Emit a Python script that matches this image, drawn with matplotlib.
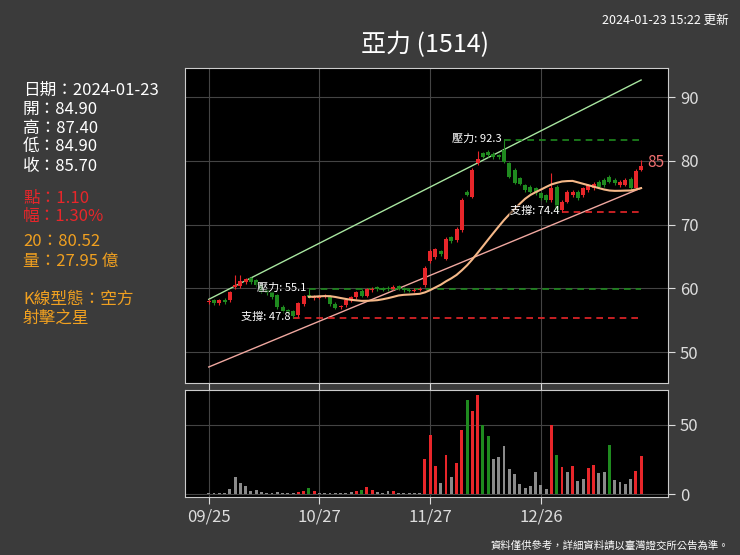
import numpy as np
import pandas as pd
import matplotlib
matplotlib.use("Agg")
import matplotlib.pyplot as plt

plt.rcParams['font.family'] = ['Noto Sans CJK TC', 'DejaVu Sans']

opens = [51.8,52.3,51.6,52.4,52.3,55.5,55.8,56.8,57.8,57.3,56.0,54.8,54.3,53.5,50.7,49.8,49.5,48.5,51.3,53.5,
         52.8,52.9,53.2,53.2,51.4,50.5,51.0,52.3,53.0,54.6,53.4,54.8,55.5,55.3,55.4,55.2,55.8,55.2,54.9,54.7,
         54.9,56.1,62.1,63.0,64.5,62.7,68.0,67.3,69.8,79.4,78.1,86.5,89.0,89.4,88.9,88.5,89.8,86.5,84.8,82.7,
         81.0,80.6,80.2,79.0,78.5,77.3,80.6,74.8,76.9,78.5,79.4,78.5,79.8,80.2,81.9,82.3,83.1,82.3,81.0,81.1,
         82.6,80.2,84.9]
closes = [52.2,51.5,52.3,51.8,54.3,56.0,57.0,57.5,56.8,56.0,54.6,54.0,53.0,50.5,49.5,49.2,48.3,51.5,53.3,53.2,
          53.2,53.2,53.4,51.3,50.4,50.8,52.3,53.0,54.3,53.4,55.0,55.2,55.0,54.9,55.0,55.7,55.2,54.8,54.7,54.9,
          55.1,60.4,64.7,65.0,63.8,67.7,67.0,70.2,77.3,78.6,84.8,87.5,88.1,88.5,88.0,88.0,86.9,83.1,81.6,81.4,
          79.8,79.4,79.0,77.7,77.3,80.2,74.8,76.9,79.4,79.4,77.7,80.2,81.0,81.4,80.6,81.0,81.9,81.5,81.9,82.3,
          80.2,84.6,85.7]
highs_extra = {5: 58.5, 6: 58.5, 19: 55.1, 51: 89.5, 56: 92.3, 65: 84.0, 82: 87.4, 16: 47.8, 67: 74.4}
volumes = [0.7,0.8,0.8,0.8,3.6,12.5,8,6,2.4,2.9,1.5,1,1,1.5,1,1,1,1.8,2.2,4.3,
           2,0.8,0.8,0.8,0.8,0.6,0.8,1.5,2.5,3,5.5,3,1.5,1.2,2,2.5,1.2,0.8,0.8,0.8,
           0.8,25.4,42.8,20.3,8,28,12.5,22.7,46.4,67.6,60,71.7,50,42,25,26.6,35,18.4,14.5,7.5,
           4.8,6,16,6.5,3.9,50,28.3,19.8,15.7,20,9.2,11.1,19,21.3,15.5,16.2,35.3,10.1,8.5,7.2,
           10.9,17,27.8]
vol_kind = list("nnnnnnnnnnnnnnnnnrrgrnnnnnnnrgrrnnnrnnnnn"
                "rrrnrnrrgrrgg" "nnnnnnnnnnn" "rgrnrnnrrnng" "nnnn" "rr")
xtick_pos = [0, 21, 42, 63]
xtick_labels = ['09/25', '10/27', '11/27', '12/26']
ytick_labels = [50, 60, 70, 80, 90]
levels = [(55.1, 19, 'g', '壓力: 55.1'), (47.8, 16, 'r', '支撐: 47.8'),
          (92.3, 56, 'g', '壓力: 92.3'), (74.4, 67, 'r', '支撐: 74.4')]
upper_trend = [52.5, 107.3]
lower_trend = [35.6, 80.3]

RED = '#e8262a'; GREEN = '#1f8a1f'; GRAY = '#8a8a8a'
BG = '#3b3b3b'
n = len(closes)
idx = np.arange(n)

fig = plt.figure(figsize=(7.4, 5.55), dpi=100, facecolor=BG)
ax = fig.add_axes([185/740, 1-383/555, 483/740, 315/555], facecolor='black')
axv = fig.add_axes([185/740, 1-497/555, 483/740, 107/555], facecolor='black', sharex=ax)

for i in range(n):
    o, c = opens[i], closes[i]
    col = RED if c >= o else GREEN
    hi = max(o, c) + 0.4
    lo = min(o, c) - 0.4
    if i in highs_extra:
        v = highs_extra[i]
        if v > max(o, c): hi = v
        else: lo = v
    ax.vlines(i, lo, hi, color=col, lw=0.8, zorder=3)
    ax.bar(i, max(abs(c - o), 0.25), bottom=min(o, c), width=0.75, color=col, zorder=4)

ma = pd.Series(closes).rolling(20).mean()
ax.plot(idx, ma, color='#f5b888', lw=1.5, zorder=5)
ax.plot([0, n - 1], upper_trend, color='#a8e6a0', lw=1.0, zorder=2)
ax.plot([0, n - 1], lower_trend, color='#f0a8a0', lw=1.0, zorder=2)
for val, start, kind, txt in levels:
    ax.hlines(val, start, n - 1, colors=(GREEN if kind == 'g' else RED), linestyles=(0, (4, 3)), lw=1.2, zorder=2)
    ax.text(start - 0.5, val + 0.3, txt, color='white', fontsize=8, ha='right', va='center', zorder=6,
            bbox=dict(facecolor='black', edgecolor='none', alpha=0.5, pad=0.5))
ax.text(n + 0.2, closes[-1] + 1.0, f"{int(closes[-1])}", color='#f07070', fontsize=11, ha='left', va='center')

ax.set_xlim(-4.5, 87.1)
ax.set_ylim(31.6, 110.3)
ax.set_yticks([(v - 25.3) / 0.628 for v in ytick_labels])
ax.set_yticklabels([str(v) for v in ytick_labels])

vcols = {'r': RED, 'g': GREEN, 'n': GRAY}
axv.bar(idx, volumes, width=0.55, color=[vcols[k] for k in vol_kind])
axv.set_ylim(-2, 75)
axv.set_yticks([0, 50])
axv.set_xticks(xtick_pos)
axv.set_xticklabels(xtick_labels)

for a in (ax, axv):
    a.yaxis.tick_right()
    a.grid(True, color='#444444', lw=0.8)
    a.set_axisbelow(True)
    for s in a.spines.values():
        s.set_color('#cccccc')
    a.tick_params(colors='#dddddd', labelsize=12, length=5)
plt.setp(ax.get_xticklabels(), visible=False)

fig.text(425/740, 1 - 45/555, '亞力 (1514)', color='white', fontsize=18, ha='center', va='center')
fig.text(0.985, 1 - 20/555, '2024-01-23 15:22 更新', color='white', fontsize=9, ha='right', va='center')
fig.text(0.985, 1 - 546/555, '資料僅供參考，詳細資料請以臺灣證交所公告為準。', color='white', fontsize=7.5, ha='right', va='center')

info = [('日期：2024-01-23', 'white', 90), ('開：84.90', 'white', 109), ('高：87.40', 'white', 128),
        ('低：84.90', 'white', 147), ('收：85.70', 'white', 166),
        ('點：1.10', RED, 198), ('幅：1.30%', RED, 217),
        ('20：80.52', '#f0a020', 242), ('量：27.95 億', '#f0a020', 261),
        ('K線型態：空方', '#f0a020', 299), ('射擊之星', '#f0a020', 318)]
for t, c, y in info:
    fig.text(23/740, 1 - y/555, t, color=c, fontsize=12, ha='left', va='center')

fig.savefig('out.png', dpi=100, facecolor=BG)
